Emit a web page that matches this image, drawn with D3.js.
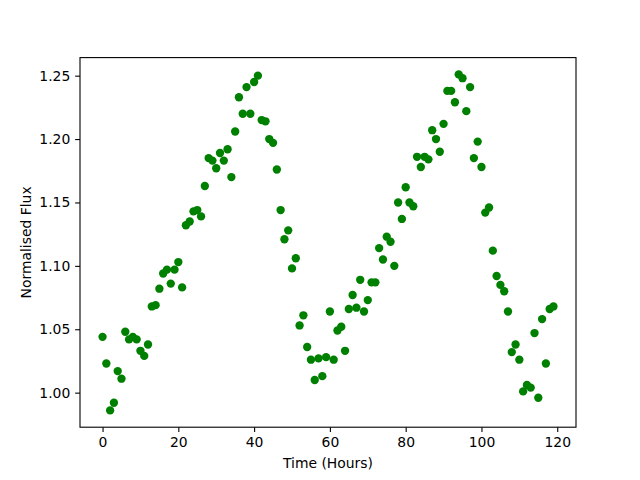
<!DOCTYPE html>
<html>
<head>
<meta charset="utf-8">
<script src="https://cdn.jsdelivr.net/npm/d3@7"></script>
<style>
  body { margin: 0; background: #fff; }
  svg text { font-family: "DejaVu Sans", sans-serif; fill: #000; }
</style>
</head>
<body>
<div id="chart"></div>
<script>
// Flux readings, one per hour (0..119)
const hours = d3.range(0, 120);
const flux = [
  1.044, 1.023, 0.986, 0.992, 1.017, 1.011, 1.048, 1.042, 1.044, 1.042,
  1.033, 1.029, 1.038, 1.068, 1.069, 1.082, 1.094, 1.097, 1.086, 1.097,
  1.103, 1.083, 1.132, 1.135, 1.143, 1.144, 1.139, 1.163, 1.185, 1.183,
  1.177, 1.189, 1.183, 1.192, 1.170, 1.206, 1.233, 1.220, 1.241, 1.220,
  1.245, 1.250, 1.215, 1.214, 1.200, 1.197, 1.176, 1.144, 1.121, 1.128,
  1.098, 1.106, 1.053, 1.061, 1.036, 1.026, 1.010, 1.027, 1.013, 1.028,
  1.064, 1.026, 1.049, 1.052, 1.033, 1.066, 1.077, 1.067, 1.089, 1.064,
  1.073, 1.087, 1.087, 1.114, 1.105, 1.123, 1.119, 1.100, 1.150, 1.137,
  1.162, 1.150, 1.147, 1.186, 1.178, 1.186, 1.184, 1.207, 1.200, 1.190,
  1.212, 1.238, 1.238, 1.229, 1.251, 1.248, 1.222, 1.241, 1.185, 1.198,
  1.178, 1.142, 1.146, 1.112, 1.092, 1.085, 1.080, 1.064, 1.032, 1.038,
  1.026, 1.001, 1.006, 1.004, 1.047, 0.996, 1.058, 1.023, 1.066, 1.068
];
const xTicks = [0, 20, 40, 60, 80, 100, 120];
const yTicks = [1.00, 1.05, 1.10, 1.15, 1.20, 1.25];

const W = 640, H = 480;
const margin = { top: 57.6, right: 64, bottom: 52.8, left: 80 };
const width = W - margin.left - margin.right;
const height = H - margin.top - margin.bottom;

// matplotlib style 5% padding around the data
function padded(ext) {
  const p = (ext[1] - ext[0]) * 0.05;
  return [ext[0] - p, ext[1] + p];
}

const x = d3.scaleLinear().domain(padded(d3.extent(hours))).range([0, width]);
const y = d3.scaleLinear().domain(padded(d3.extent(flux))).range([height, 0]);

const svg = d3.select("#chart").append("svg")
  .attr("width", W)
  .attr("height", H);

const g = svg.append("g")
  .attr("transform", `translate(${margin.left},${margin.top})`);

// Points
g.append("g")
  .selectAll("circle")
  .data(hours)
  .enter()
  .append("circle")
  .attr("cx", (d, i) => x(d))
  .attr("cy", (d, i) => y(flux[i]))
  .attr("r", 4.17)
  .style("fill", "#008000");

// Axes
const xAxis = g.append("g")
  .attr("transform", `translate(0,${height})`)
  .call(d3.axisBottom(x).tickValues(xTicks).tickSize(4.86).tickPadding(4.86).tickFormat(d3.format("d")));

const yAxis = g.append("g")
  .call(d3.axisLeft(y).tickValues(yTicks).tickSize(4.86).tickPadding(4.86).tickFormat(d3.format(".2f")));

[xAxis, yAxis].forEach(a => {
  a.select(".domain").remove();
  a.selectAll("line").style("stroke", "#000").style("stroke-width", 1.1);
  a.selectAll("text").style("font-size", "13.9px").style("font-family", "DejaVu Sans");
});

// Frame
g.append("rect")
  .attr("width", width)
  .attr("height", height)
  .style("fill", "none")
  .style("stroke", "#000")
  .style("stroke-width", 1.1);

// Labels
svg.append("text")
  .attr("x", margin.left + width / 2)
  .attr("y", 468)
  .attr("text-anchor", "middle")
  .style("font-size", "13.9px")
  .text("Time (Hours)");

svg.append("text")
  .attr("transform", `translate(31,${margin.top + height / 2}) rotate(-90)`)
  .attr("text-anchor", "middle")
  .style("font-size", "13.9px")
  .text("Normalised Flux");
</script>
</body>
</html>
